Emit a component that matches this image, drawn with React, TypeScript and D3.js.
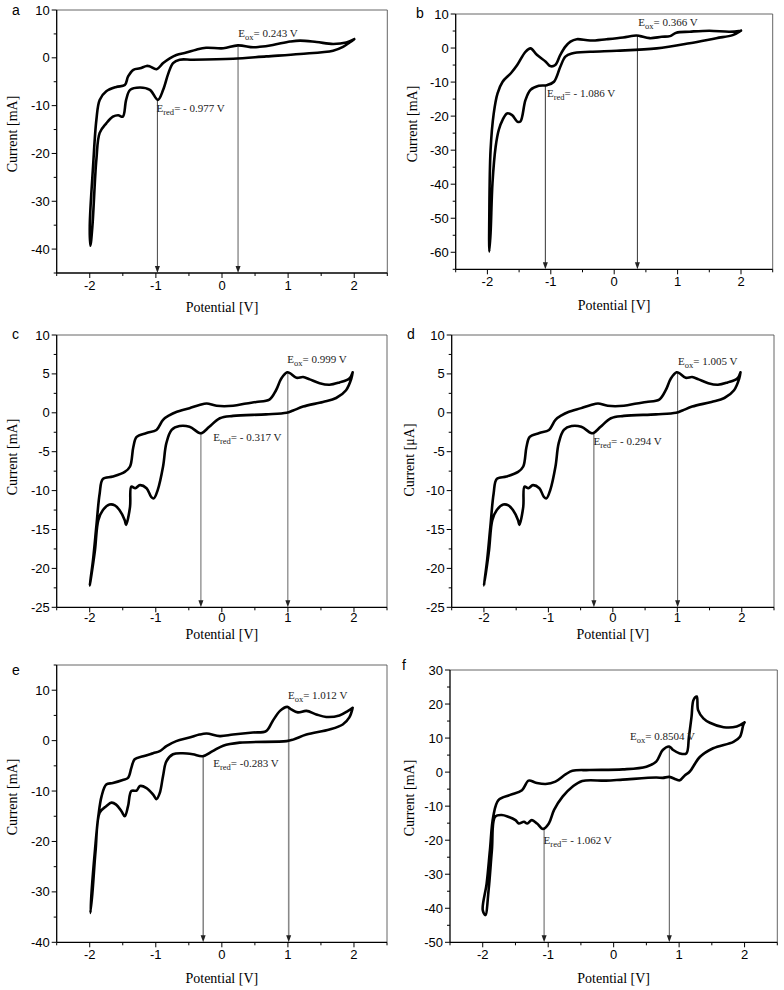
import React from "react";
import * as d3 from "d3";

// ── Data: cyclic voltammograms (potential V, current) traced as one loop ──
const aPotential = [2.0, 1.88, 1.68, 1.43, 1.18, 1.03, 0.77, 0.57, 0.47, 0.24, 0.02, -0.24, -0.39, -0.54, -0.69, -0.79, -0.89, -0.99, -1.09, -1.14, -1.24, -1.34, -1.42, -1.47, -1.6, -1.75, -1.85, -1.9, -1.95, -2.0, -1.99, -1.96, -1.9, -1.85, -1.75, -1.65, -1.57, -1.5, -1.45, -1.39, -1.24, -1.09, -0.97, -0.89, -0.81, -0.74, -0.64, -0.44, 0.17, 0.67, 1.18, 1.68, 1.83, 1.93, 2.0];
const aCurrent = [3.9, 3.2, 2.9, 3.3, 3.6, 3.4, 2.7, 2.3, 2.2, 2.6, 2.0, 2.1, 1.7, 1.1, 0.6, -0.1, -1.1, -2.4, -1.8, -1.7, -2.2, -2.5, -3.9, -5.7, -6.1, -7.0, -8.8, -13, -22.7, -35.2, -39.3, -35.2, -21.3, -15.7, -13.7, -12.3, -12.0, -12.3, -8.8, -6.7, -6.2, -6.7, -8.8, -6.7, -3.2, -1.1, -0.4, -0.4, -0.2, 0.3, 0.8, 1.5, 2.3, 3.2, 3.9];

const bPotential = [2.0, 1.82, 1.5, 1.19, 0.98, 0.88, 0.75, 0.56, 0.41, 0.35, 0.14, -0.12, -0.38, -0.59, -0.69, -0.77, -0.85, -0.93, -1.01, -1.08, -1.22, -1.32, -1.4, -1.53, -1.63, -1.76, -1.84, -1.9, -1.95, -1.97, -1.97, -1.95, -1.92, -1.87, -1.82, -1.76, -1.69, -1.61, -1.53, -1.48, -1.4, -1.32, -1.19, -1.06, -0.95, -0.85, -0.77, -0.67, -0.38, 0.04, 0.67, 1.19, 1.61, 1.87, 2.0];
const bCurrent = [5.1, 4.8, 5.1, 4.8, 4.5, 3.5, 3.3, 2.9, 3.5, 3.7, 3.1, 2.6, 2.2, 2.6, 1.9, 0.4, -2.0, -5.0, -5.3, -4.0, -2.0, -0.1, -1.1, -5.0, -7.4, -9.9, -13.3, -19.2, -30, -49.5, -59.8, -54.4, -39.7, -29, -24, -21.1, -19.2, -19.7, -21.6, -21.6, -15.3, -12.3, -11.1, -10.9, -9.9, -5.5, -2.5, -1.6, -1.1, -0.8, -0.1, 1.4, 2.9, 3.8, 5.1];

const cPotential = [1.98, 1.93, 1.78, 1.63, 1.48, 1.33, 1.23, 1.13, 1.03, 0.99, 0.9, 0.82, 0.72, 0.52, 0.37, 0.17, -0.08, -0.23, -0.34, -0.49, -0.69, -0.79, -0.89, -0.99, -1.14, -1.29, -1.34, -1.39, -1.47, -1.65, -1.8, -1.85, -1.9, -1.95, -2.0, -1.97, -1.92, -1.87, -1.8, -1.7, -1.62, -1.55, -1.47, -1.45, -1.39, -1.37, -1.31, -1.24, -1.14, -1.07, -1.03, -0.97, -0.89, -0.84, -0.76, -0.64, -0.49, -0.34, -0.3, -0.19, -0.03, 0.17, 0.67, 0.98, 1.08, 1.23, 1.53, 1.73, 1.88, 1.96, 1.98];
const cCurrent = [5.2, 4.4, 3.9, 3.6, 3.8, 4.3, 4.6, 4.5, 5.1, 5.2, 4.4, 2.9, 1.7, 1.4, 1.2, 0.9, 0.9, 1.2, 1.0, 0.6, 0.1, -0.3, -0.9, -2.2, -2.6, -3.1, -4.4, -6.9, -7.6, -8.2, -8.5, -10.4, -14.6, -18.9, -22.2, -20.6, -17.6, -13.8, -12.5, -11.8, -11.9, -12.5, -13.8, -14.4, -12.1, -9.5, -9.7, -9.3, -9.7, -10.8, -11.0, -9.9, -6.9, -3.9, -2.2, -1.7, -1.8, -2.6, -2.6, -1.8, -0.7, -0.4, -0.2, 0.0, 0.3, 0.8, 1.4, 1.9, 2.9, 4.4, 5.2];

// panel d shows the same voltammogram as c
const dPotential = cPotential;
const dCurrent = cCurrent;

const ePotential = [1.98, 1.91, 1.78, 1.58, 1.43, 1.28, 1.15, 1.05, 0.99, 0.88, 0.77, 0.67, 0.47, 0.17, -0.03, -0.23, -0.34, -0.49, -0.69, -0.84, -0.94, -1.04, -1.19, -1.32, -1.37, -1.42, -1.5, -1.65, -1.75, -1.82, -1.87, -1.92, -1.97, -1.99, -1.96, -1.91, -1.85, -1.75, -1.67, -1.6, -1.52, -1.47, -1.42, -1.37, -1.29, -1.24, -1.14, -1.04, -0.99, -0.94, -0.89, -0.84, -0.74, -0.59, -0.44, -0.29, -0.14, 0.02, 0.27, 0.98, 1.08, 1.28, 1.63, 1.83, 1.93, 1.98];
const eCurrent = [6.5, 5.9, 5.0, 4.7, 5.2, 5.9, 5.6, 6.2, 6.7, 5.9, 3.9, 1.9, 1.6, 1.2, 0.9, 1.4, 1.2, 0.6, -0.1, -1.1, -2.1, -2.5, -3.1, -3.7, -5.4, -7.4, -7.8, -8.4, -8.7, -11.0, -15.0, -21.6, -29.6, -34.2, -30.3, -21.6, -14.3, -13.0, -12.3, -12.7, -14.0, -15.0, -13.0, -10.0, -9.9, -9.0, -9.4, -10.7, -11.6, -10.4, -7.0, -4.1, -2.7, -2.5, -2.7, -3.1, -2.1, -1.0, -0.4, -0.1, 0.2, 1.2, 2.2, 3.2, 4.6, 6.5];

const fPotential = [2.0, 1.88, 1.68, 1.47, 1.37, 1.29, 1.27, 1.22, 1.19, 1.15, 1.11, 1.01, 0.91, 0.85, 0.75, 0.65, 0.5, 0.14, -0.37, -0.63, -0.73, -0.89, -1.04, -1.19, -1.3, -1.4, -1.58, -1.76, -1.84, -1.89, -1.94, -2.0, -1.96, -1.91, -1.86, -1.81, -1.71, -1.61, -1.5, -1.45, -1.37, -1.32, -1.25, -1.17, -1.08, -0.99, -0.91, -0.78, -0.63, -0.48, -0.12, 0.14, 0.65, 0.75, 0.85, 0.96, 1.01, 1.09, 1.16, 1.32, 1.52, 1.83, 1.93, 1.98, 2.0];
const fCurrent = [14.6, 13.4, 13.2, 14.5, 15.8, 18.2, 22.2, 21.2, 16.3, 10.4, 5.5, 5.5, 6.5, 7.5, 6.5, 3.1, 1.6, 0.8, 0.6, 0.4, -0.6, -2.8, -3.5, -3.1, -2.5, -5.3, -6.7, -8.2, -13.1, -22.9, -32.7, -40.5, -42, -34.6, -22.9, -13.1, -12.6, -13.1, -14.1, -15.1, -14.6, -15.1, -14.1, -15.1, -16.7, -15.1, -11.1, -7.2, -4.3, -2.6, -2.5, -2.2, -1.6, -1.7, -1.4, -2.2, -2.4, -0.9, 0.1, 4.5, 7.0, 8.9, 10.4, 13.8, 14.6];

// ── Peaks: [reduction, oxidation] ──
const aPeakV = [-0.977, 0.243];
const aPeakI = [-8.9, 2.4];
const aPeakText = ["= - 0.977 V", "= 0.243 V"];
const bPeakV = [-1.086, 0.366];
const bPeakI = [-10.9, 3.6];
const bPeakText = ["= - 1.086 V", "= 0.366 V"];
const cPeakV = [-0.317, 0.999];
const cPeakI = [-2.6, 5.2];
const cPeakText = ["= - 0.317 V", "= 0.999 V"];
const dPeakV = [-0.294, 1.005];
const dPeakI = [-2.6, 5.2];
const dPeakText = ["= - 0.294 V", "= 1.005 V"];
const ePeakV = [-0.283, 1.012];
const ePeakI = [-3.1, 6.6];
const ePeakText = ["= -0.283 V", "= 1.012 V"];
const fPeakV = [-1.062, 0.8504];
const fPeakI = [-16.8, 7.5];
const fPeakText = ["= - 1.062 V", "= 0.8504 V"];

const xMajor = [-2, -1, 0, 1, 2];
const xMinor = [-2.5, -1.5, -0.5, 0.5, 1.5, 2.5];

const SANS = "'Liberation Sans', Arial, sans-serif";
const SERIF = "'Liberation Serif', 'Times New Roman', serif";

interface PanelCfg {
  letter: string;
  letterX: number;
  letterY: number;
  left: number;
  right: number;
  top: number;
  bottom: number;
  yDomain: [number, number];
  yMajorStep: number;
  yMinorStep: number;
  yMajorStart: number;
  unit: string;
  yLabelX: number;
  yLabelY: number;
  xLabelY: number;
  xTickDy: number;
  potential: number[];
  current: number[];
  peakV: number[];
  peakI: number[];
  peakText: string[];
  labelPos: [number, number][]; // text anchor in data units
  arrowColors: string[];
}

const PANELS: PanelCfg[] = [
  {
    letter: "a", letterX: 12, letterY: 15,
    left: 56.7, right: 387.3, top: 10, bottom: 273,
    yDomain: [-45, 10], yMajorStep: 10, yMinorStep: 5, yMajorStart: -40,
    unit: "Current [mA]", yLabelX: 12, yLabelY: 134, xLabelY: 312, xTickDy: 17,
    potential: aPotential, current: aCurrent,
    peakV: aPeakV, peakI: aPeakI, peakText: aPeakText,
    labelPos: [[-0.99, -11.4], [0.245, 4.4]],
    arrowColors: ["#444", "#999"],
  },
  {
    letter: "b", letterX: 416, letterY: 18,
    left: 455.7, right: 772.7, top: 14, bottom: 269.3,
    yDomain: [-65, 10], yMajorStep: 10, yMinorStep: 5, yMajorStart: -60,
    unit: "Current [mA]", yLabelX: 412, yLabelY: 124, xLabelY: 310, xTickDy: 17,
    potential: bPotential, current: bCurrent,
    peakV: bPeakV, peakI: bPeakI, peakText: bPeakText,
    labelPos: [[-1.06, -14.3], [0.38, 6.5]],
    arrowColors: ["#333", "#333"],
  },
  {
    letter: "c", letterX: 12, letterY: 339,
    left: 56.7, right: 387, top: 335, bottom: 607.3,
    yDomain: [-25, 10], yMajorStep: 5, yMinorStep: 2.5, yMajorStart: -25,
    unit: "Current [mA]", yLabelX: 12, yLabelY: 457, xLabelY: 639, xTickDy: 14.5,
    potential: cPotential, current: cCurrent,
    peakV: cPeakV, peakI: cPeakI, peakText: cPeakText,
    labelPos: [[-0.13, -3.6], [0.99, 6.4]],
    arrowColors: ["#666", "#666"],
  },
  {
    letter: "d", letterX: 407, letterY: 339,
    left: 451.7, right: 774, top: 335, bottom: 607.3,
    yDomain: [-25, 10], yMajorStep: 5, yMinorStep: 2.5, yMajorStart: -25,
    unit: "Current [\u03bcA]", yLabelX: 409, yLabelY: 460, xLabelY: 639, xTickDy: 14.5,
    potential: dPotential, current: dCurrent,
    peakV: dPeakV, peakI: dPeakI, peakText: dPeakText,
    labelPos: [[-0.3, -4.1], [1.01, 6.1]],
    arrowColors: ["#555", "#555"],
  },
  {
    letter: "e", letterX: 12, letterY: 675,
    left: 56.7, right: 387, top: 665, bottom: 942.3,
    yDomain: [-40, 15], yMajorStep: 10, yMinorStep: 5, yMajorStart: -40,
    unit: "Current [mA]", yLabelX: 12, yLabelY: 797, xLabelY: 983, xTickDy: 17,
    potential: ePotential, current: eCurrent,
    peakV: ePeakV, peakI: ePeakI, peakText: ePeakText,
    labelPos: [[-0.13, -5.3], [1.0, 8.3]],
    arrowColors: ["#444", "#888"],
  },
  {
    letter: "f", letterX: 402, letterY: 670,
    left: 450, right: 777.3, top: 670, bottom: 942.3,
    yDomain: [-50, 30], yMajorStep: 10, yMinorStep: 5, yMajorStart: -50,
    unit: "Current [mA]", yLabelX: 409, yLabelY: 798, xLabelY: 983, xTickDy: 17,
    potential: fPotential, current: fCurrent,
    peakV: fPeakV, peakI: fPeakI, peakText: fPeakText,
    labelPos: [[-1.07, -21.2], [0.25, 9.4]],
    arrowColors: ["#999", "#555"],
  },
];

const CVPanel: React.FC<{ cfg: PanelCfg }> = ({ cfg }) => {
  const x = d3.scaleLinear().domain([-2.5, 2.5]).range([cfg.left, cfg.right]);
  const y = d3.scaleLinear().domain(cfg.yDomain).range([cfg.bottom, cfg.top]);

  const points = cfg.potential.map((v, i) => [v, cfg.current[i]] as [number, number]);
  const path = d3
    .line<[number, number]>()
    .x((d) => x(d[0]))
    .y((d) => y(d[1]))
    .curve(d3.curveCatmullRom.alpha(0.5))(points);

  const yMajor = d3.range(cfg.yMajorStart, cfg.yDomain[1] + 0.001, cfg.yMajorStep);
  const yMinor = d3
    .range(cfg.yDomain[0], cfg.yDomain[1] + 0.001, cfg.yMinorStep)
    .filter((v) => !yMajor.some((m) => Math.abs(m - v) < 1e-6));

  const subs = ["red", "ox"];

  return (
    <g>
      <text x={cfg.letterX} y={cfg.letterY} fontFamily={SANS} fontSize={14}>{cfg.letter}</text>

      {/* frame */}
      <line x1={cfg.left} x2={cfg.right} y1={cfg.top} y2={cfg.top} stroke="#555" strokeWidth={0.9} />
      <line x1={cfg.right} x2={cfg.right} y1={cfg.top} y2={cfg.bottom} stroke="#555" strokeWidth={0.9} />
      <line x1={cfg.left} x2={cfg.left} y1={cfg.top} y2={cfg.bottom} stroke="#000" strokeWidth={1.3} />
      <line x1={cfg.left} x2={cfg.right} y1={cfg.bottom} y2={cfg.bottom} stroke="#000" strokeWidth={1.3} />

      {/* y ticks */}
      {yMajor.map((v) => (
        <g key={`ym${v}`}>
          <line x1={cfg.left - 5} x2={cfg.left} y1={y(v)} y2={y(v)} stroke="#000" strokeWidth={1} />
          <text x={cfg.left - 7} y={y(v)} dy="0.35em" textAnchor="end" fontFamily={SANS} fontSize={13}>{String(v)}</text>
        </g>
      ))}
      {yMinor.map((v) => (
        <line key={`yn${v}`} x1={cfg.left - 3} x2={cfg.left} y1={y(v)} y2={y(v)} stroke="#000" strokeWidth={1} />
      ))}

      {/* x ticks */}
      {xMajor.map((v) => (
        <g key={`xm${v}`}>
          <line x1={x(v)} x2={x(v)} y1={cfg.bottom} y2={cfg.bottom + 5} stroke="#000" strokeWidth={1} />
          <text x={x(v)} y={cfg.bottom + cfg.xTickDy} textAnchor="middle" fontFamily={SANS} fontSize={13}>{String(v)}</text>
        </g>
      ))}
      {xMinor.map((v) => (
        <line key={`xn${v}`} x1={x(v)} x2={x(v)} y1={cfg.bottom} y2={cfg.bottom + 3} stroke="#000" strokeWidth={1} />
      ))}

      {/* axis titles */}
      <text x={(cfg.left + cfg.right) / 2} y={cfg.xLabelY} textAnchor="middle" fontFamily={SERIF} fontSize={14}>Potential [V]</text>
      <text
        transform={`translate(${cfg.yLabelX},${cfg.yLabelY}) rotate(-90)`}
        textAnchor="middle"
        dy="0.35em"
        fontFamily={SERIF}
        fontSize={14}
      >
        {cfg.unit}
      </text>

      {/* peak arrows */}
      {cfg.peakV.map((v, i) => {
        const px = x(v);
        const col = cfg.arrowColors[i];
        return (
          <g key={`arr${i}`}>
            <line x1={px} x2={px} y1={y(cfg.peakI[i])} y2={cfg.bottom - 5} stroke={col} strokeWidth={col === "#999" || col === "#888" ? 1.6 : 1} />
            <polygon points={`${px - 2.5},${cfg.bottom - 7} ${px + 2.5},${cfg.bottom - 7} ${px},${cfg.bottom}`} fill="#222" />
          </g>
        );
      })}

      {/* curve */}
      <path d={path ?? ""} fill="none" stroke="#000" strokeWidth={2.6} strokeLinejoin="round" strokeLinecap="round" />

      {/* peak labels */}
      {cfg.peakText.map((t, i) => (
        <text key={`lbl${i}`} x={x(cfg.labelPos[i][0])} y={y(cfg.labelPos[i][1])} fontFamily={SERIF} fontSize={11} fill="#222">
          E<tspan fontSize={8.5} dy={3}>{subs[i]}</tspan>
          <tspan dy={-3}>{t}</tspan>
        </text>
      ))}
    </g>
  );
};

const App: React.FC = () => (
  <svg
    width={784}
    height={990}
    viewBox="0 0 784 990"
    style={{ position: "absolute", left: 0, top: 0, background: "#fff" }}
  >
    <rect width={784} height={990} fill="#fff" />
    {PANELS.map((p) => (
      <CVPanel key={p.letter} cfg={p} />
    ))}
  </svg>
);

export default App;
